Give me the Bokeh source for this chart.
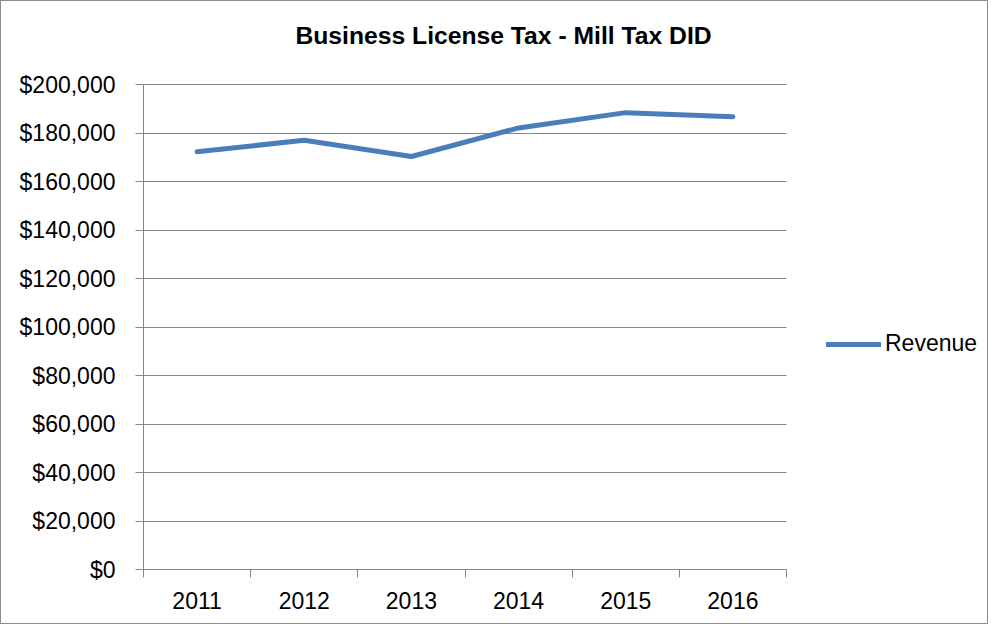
from bokeh.plotting import figure
from bokeh.models import Range1d, FixedTicker, NumeralTickFormatter, Legend, LegendItem, Label
from bokeh.embed import file_html
from bokeh.resources import INLINE

years = ["2011", "2012", "2013", "2014", "2015", "2016"]
revenue = [172300, 177000, 170300, 182100, 188400, 186700]
series_name = "Revenue"
chart_title = "Business License Tax - Mill Tax DID"
y_ticks = list(range(0, 200001, 20000))
y_max = 200000

FONT = "Liberation Sans"
GRAY = "#868686"
BLUE = "#4A7EBB"

# layout (pixels)
W, H = 988, 624
LEFT, BOTTOM = 142, 56
AXES_W, AXES_H = 643, 485          # size of the plotting area proper
FRAME_W, FRAME_H = W - LEFT, H - BOTTOM

xs = list(range(len(years)))
x_start = -0.5
x_end = x_start + len(years) * FRAME_W / AXES_W
y_end = y_max * FRAME_H / AXES_H

p = figure(width=W, height=H, output_backend="svg", toolbar_location=None,
           title=None, x_range=Range1d(x_start, x_end),
           y_range=Range1d(0, y_end),
           min_border_left=LEFT, min_border_right=0, min_border_top=0,
           min_border_bottom=BOTTOM)
p.styles = {"border": "1px solid #8c8c8c"}
p.outline_line_color = None
p.background_fill_color = "white"
p.border_fill_color = "white"

r = p.line(xs, revenue, line_width=5, line_color=BLUE, line_cap="round",
           line_join="round")

# x axis
xa = p.xaxis[0]
xa.bounds = (x_start, len(years) - 0.5)
xa.ticker = FixedTicker(ticks=xs, minor_ticks=[i - 0.5 for i in range(len(years) + 1)])
xa.major_label_overrides = {i: y for i, y in enumerate(years)}
xa.major_tick_out = 0
xa.major_tick_in = 0
xa.minor_tick_out = 8
xa.minor_tick_in = 0
xa.minor_tick_line_color = GRAY
xa.axis_line_color = GRAY
xa.major_label_standoff = 14
xa.major_label_text_font = FONT
xa.major_label_text_font_size = "23px"
xa.major_label_text_color = "black"

# y axis
ya = p.yaxis[0]
ya.bounds = (0, y_max)
ya.ticker = FixedTicker(ticks=y_ticks)
ya.formatter = NumeralTickFormatter(format="$0,0")
ya.major_tick_out = 8
ya.major_tick_in = 0
ya.minor_tick_line_color = None
ya.major_tick_line_color = GRAY
ya.axis_line_color = GRAY
ya.major_label_standoff = 20
ya.major_label_text_font = FONT
ya.major_label_text_font_size = "23px"
ya.major_label_text_color = "black"

p.xgrid.grid_line_color = None
p.ygrid.grid_line_color = GRAY
p.ygrid.ticker = FixedTicker(ticks=y_ticks)
p.ygrid.cross_bounds = (x_start, len(years) - 0.5)

# legend
lg = Legend(items=[LegendItem(label=series_name, renderers=[r])],
            location=(AXES_W + 40, 212))
lg.padding = 0
lg.margin = 0
lg.border_line_color = None
lg.background_fill_alpha = 0
lg.glyph_width = 55
lg.glyph_height = 24
lg.label_standoff = 4
lg.label_text_font = FONT
lg.label_text_font_size = "23px"
lg.label_text_color = "black"
p.add_layout(lg, "center")

# title
p.add_layout(Label(x=360, y=534, x_units="screen", y_units="screen",
                   text=chart_title, text_align="center", text_baseline="middle",
                   text_font=FONT, text_font_style="bold", text_font_size="24.7px",
                   text_color="black"))

open("out.html", "w").write(file_html(p, INLINE))
